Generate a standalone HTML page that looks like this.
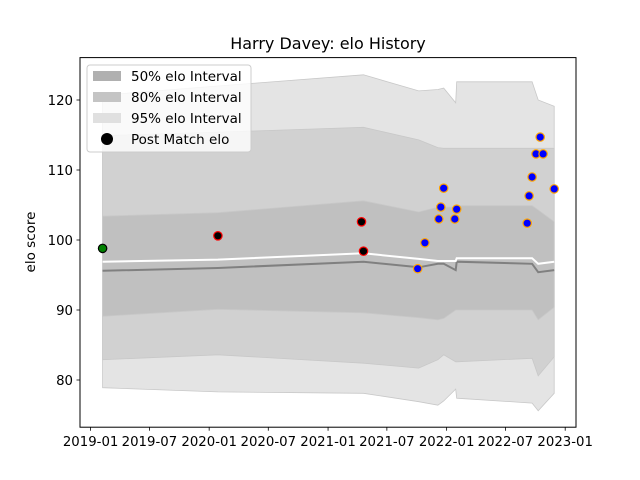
<!DOCTYPE html>
<html><head><meta charset="utf-8"><style>
html,body{margin:0;padding:0;background:#fff;}
svg{display:block;font-family:"DejaVu Sans","Liberation Sans",sans-serif;}
</style></head><body>
<svg id="chart" width="640" height="480" viewBox="0 0 640 480">
<rect x="0" y="0" width="640" height="480" fill="#fff"/>
<g id="bands"></g>
<g id="lines"></g>
<g id="points"></g>
<rect x="80" y="57.6" width="496" height="369.6" fill="none" stroke="#000" stroke-width="1"/>
<g id="xticks"></g>
<g id="yticks"></g>
<text x="328" y="49" text-anchor="middle" font-size="16" fill="#000">Harry Davey: elo History</text>
<text transform="translate(35,242) rotate(-90)" text-anchor="middle" font-size="13.5" fill="#000">elo score</text>
<g>
<rect x="87" y="65" width="164" height="87" rx="3" fill="#fff" fill-opacity="0.8" stroke="#ccc"/>
<rect x="93" y="71" width="28" height="10" fill="#b0b0b0"/>
<text x="131" y="81" font-size="13.5">50% elo Interval</text>
<rect x="93" y="92" width="28" height="10" fill="#c4c4c4"/>
<text x="131" y="102" font-size="13.5">80% elo Interval</text>
<rect x="93" y="113" width="28" height="10" fill="#e0e0e0"/>
<text x="131" y="123" font-size="13.5">95% elo Interval</text>
<circle cx="107" cy="139" r="6" fill="#000"/>
<text x="131" y="144" font-size="13.5">Post Match elo</text>
</g>
</svg>
<script>
const bandDates = ["2019-02-07","2020-01-28","2021-04-20","2021-10-07","2021-12-05","2021-12-23","2022-01-29","2022-02-01","2022-09-21","2022-10-10","2022-11-28"];
const p95hi = [120.7,122.0,123.6,121.3,121.5,121.7,119.6,122.6,122.6,120.0,119.1];
const p80hi = [114.9,115.4,116.1,114.3,113.2,113.1,113.1,113.1,113.1,113.1,113.1];
const p50hi = [103.4,103.9,105.6,104.0,104.7,104.7,104.7,104.9,104.9,104.3,102.6];
const medianElo = [95.6,96.0,96.9,96.1,96.6,96.6,95.7,96.9,96.6,95.4,95.7];
const meanElo = [96.9,97.2,98.1,97.3,97.0,97.0,97.0,97.4,97.4,96.6,96.9];
const p50lo = [89.1,90.1,89.6,88.9,88.6,88.8,90.0,90.0,90.0,88.6,90.4];
const p80lo = [82.9,83.6,82.4,81.7,82.9,83.6,82.6,82.6,83.1,80.6,83.3];
const p95lo = [78.9,78.3,78.1,76.9,76.4,77.0,78.7,77.4,76.7,75.6,78.1];
const pointDates = ["2019-02-07","2020-01-28","2021-04-14","2021-04-20","2021-10-04","2021-10-26","2021-12-08","2021-12-14","2021-12-23","2022-01-26","2022-02-01","2022-09-06","2022-09-12","2022-09-21","2022-10-03","2022-10-16","2022-10-25","2022-11-28"];
const pointElo = [98.8,100.6,102.6,98.4,95.9,99.6,103.0,104.7,107.4,103.0,104.4,102.4,106.3,109.0,112.3,114.7,112.3,107.3];
const pointKind = ["first","old","old","old","new","new","new","new","new","new","new","new","new","new","new","new","new","new"];
const xTickLabels = ["2019-01","2019-07","2020-01","2020-07","2021-01","2021-07","2022-01","2022-07","2023-01"];
const yTickValues = [80,90,100,110,120];

const NS="http://www.w3.org/2000/svg";
const t0=Date.UTC(2019,0,1), t1=Date.UTC(2023,0,1);
function xs(s){const p=s.split("-").map(Number);const t=Date.UTC(p[0],p[1]-1,p[2]||1);return 90.6+(t-t0)/(t1-t0)*(565.2-90.6);}
function ys(v){return 100+(120-v)*7;}
function mk(tag,attrs,parent){const e=document.createElementNS(NS,tag);for(const k in attrs)e.setAttribute(k,attrs[k]);parent.appendChild(e);return e;}

const bandG=document.getElementById("bands");
function band(hi,lo,fill,name){
  let d="M"+bandDates.map((s,i)=>xs(s).toFixed(1)+","+ys(hi[i]).toFixed(1)).join("L");
  for(let i=bandDates.length-1;i>=0;i--) d+="L"+xs(bandDates[i]).toFixed(1)+","+ys(lo[i]).toFixed(1);
  d+="Z";
  const p=mk("path",{d:d,fill:fill,stroke:"#c8c8c8","stroke-width":"0.8"},bandG);
  
  
}
band(p95hi,p95lo,"#e4e4e4","band-95");
band(p80hi,p80lo,"#d1d1d1","band-80");
band(p50hi,p50lo,"#c0c0c0","band-50");

const lineG=document.getElementById("lines");
function line(vals,color,name){
  const d="M"+bandDates.map((s,i)=>xs(s).toFixed(1)+","+ys(vals[i]).toFixed(1)).join("L");
  const p=mk("path",{d:d,fill:"none",stroke:color,"stroke-width":"2"},lineG);
  
  
}
line(medianElo,"#808080","median-line");
line(meanElo,"#ffffff","mean-line");

const ptG=document.getElementById("points");
pointDates.forEach((s,i)=>{
  const k=pointKind[i];
  const fill=k==="first"?"#008000":(k==="old"?"#000":"#0000ff");
  const stroke=k==="first"?"#000":(k==="old"?"#ff0000":"#ffa500");
  const c=mk("circle",{cx:xs(s).toFixed(1),cy:ys(pointElo[i]).toFixed(1),r:"4.2",fill:fill,stroke:stroke,"stroke-width":"1.2"},ptG);
  
  
});

const xg=document.getElementById("xticks");
xTickLabels.forEach(l=>{
  const x=xs(l);
  const tk=mk("line",{x1:x,x2:x,y1:427.2,y2:430.7,stroke:"#000","stroke-width":"0.8"},xg);
  
  
  const t=mk("text",{x:x,y:446,"text-anchor":"middle","font-size":"13.3"},xg);
  t.textContent=l;
  
  
});
const yg=document.getElementById("yticks");
yTickValues.forEach(v=>{
  const y=ys(v);
  const tk=mk("line",{x1:76.5,x2:80,y1:y,y2:y,stroke:"#000","stroke-width":"0.8"},yg);
  
  
  const t=mk("text",{x:73,y:y+5,"text-anchor":"end","font-size":"13.3"},yg);
  t.textContent=String(v);
  
  
});
</script>
</body></html>
